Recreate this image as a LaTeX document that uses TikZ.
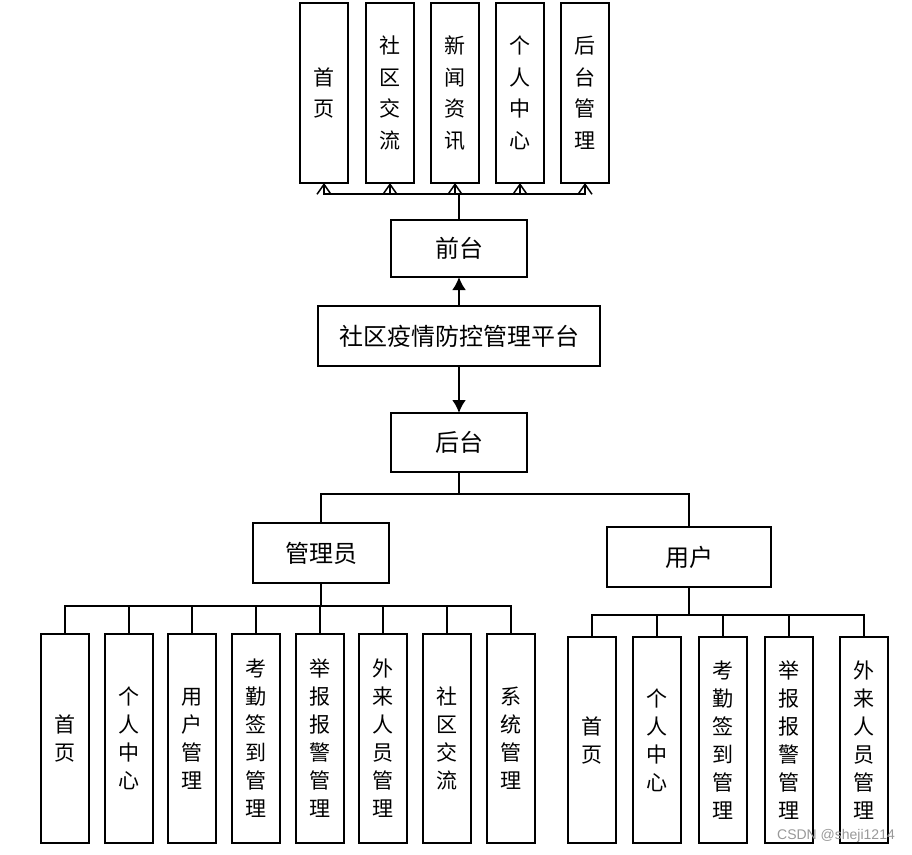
\documentclass[tikz,border=0pt]{standalone}
\usepackage{fontspec}
\setmainfont{Noto Sans CJK SC}
\newfontfamily\wmfont{Liberation Sans}
\usetikzlibrary{arrows.meta}
\begin{document}
\begin{tikzpicture}[x=1pt,y=-1pt,
  box/.style={draw, line width=2pt, inner sep=0pt, outer sep=0pt, fill=white},
  vbox/.style={box, minimum width=48pt, align=center, font=\fontsize{21}{28}\selectfont},
  tbox/.style={box, minimum width=48pt, minimum height=180pt, align=center, font=\fontsize{21}{31.5}\selectfont},
  hbox/.style={box, font=\fontsize{24}{28}\selectfont},
  conn/.style={line width=1.8pt},
  openarr/.style={line width=1.8pt, -{Straight Barb[length=10pt,width=14pt,line width=1.5pt]}},
  bigarr/.style={line width=2.4pt, -{Latex[length=13pt,width=14pt]}}
]
\useasboundingbox (0,0) rectangle (912,854);

% top boxes
\node[tbox] (t1) at (324,93) {首\\页};
\node[tbox] (t2) at (390,93) {社\\区\\交\\流};
\node[tbox] (t3) at (455,93) {新\\闻\\资\\讯};
\node[tbox] (t4) at (520,93) {个\\人\\中\\心};
\node[tbox] (t5) at (585,93) {后\\台\\管\\理};

\node[hbox, minimum width=136pt, minimum height=57pt] (qt) at (459,248.5) {前台};
\node[hbox, minimum width=282pt, minimum height=60pt] (pt) at (459,336) {社区疫情防控管理平台};
\node[hbox, minimum width=136pt, minimum height=59pt] (ht) at (459,442.5) {后台};

\node[hbox, minimum width=136pt, minimum height=60pt] (gl) at (321,553) {管理员};
\node[hbox, minimum width=164pt, minimum height=60pt] (yh) at (689,557) {用户};

% admin boxes
\foreach \n/\x/\t in {a1/65/{首\\页}, a2/129/{个\\人\\中\\心}, a3/192/{用\\户\\管\\理},
  a4/256/{考\\勤\\签\\到\\管\\理}, a5/320/{举\\报\\报\\警\\管\\理},
  a6/383/{外\\来\\人\\员\\管\\理}, a7/447/{社\\区\\交\\流}, a8/511/{系\\统\\管\\理}}
  {\node[vbox, minimum height=209pt] (\n) at (\x,738.5) {\t};}

% user boxes
\foreach \n/\x/\t in {u1/592/{首\\页}, u2/657/{个\\人\\中\\心},
  u3/723/{考\\勤\\签\\到\\管\\理}, u4/789/{举\\报\\报\\警\\管\\理},
  u5/864/{外\\来\\人\\员\\管\\理}}
  {\node[vbox, minimum height=206pt] (\n) at (\x,740) {\t};}

% top connectors
\coordinate (tb) at (459,194);
\draw[conn] (qt.north) -- (tb);
\foreach \n in {t1,t2,t3,t4,t5}
  \draw[openarr] (tb) -| (\n.south);

% platform arrows
\draw[bigarr] (pt.north) -- (qt.south);
\draw[bigarr] (pt.south) -- (ht.north);

% backend
\coordinate (hb) at (459,494);
\draw[conn] (ht.south) -- (hb);
\draw[conn] (hb) -| (gl.north);
\draw[conn] (hb) -| (yh.north);

% admin bus
\coordinate (ab) at (321,606);
\draw[conn] (gl.south) -- (ab);
\foreach \n in {a1,a2,a3,a4,a5,a6,a7,a8}
  \draw[conn] (ab) -| (\n.north);

% user bus
\coordinate (ub) at (689,615);
\draw[conn] (yh.south) -- (ub);
\foreach \n in {u1,u2,u3,u4,u5}
  \draw[conn] (ub) -| (\n.north);

% watermark
\node[text=gray!80, font=\wmfont\fontsize{14}{16}\selectfont] (wm) at (836,836) {CSDN @sheji1214};
\end{tikzpicture}
\end{document}
